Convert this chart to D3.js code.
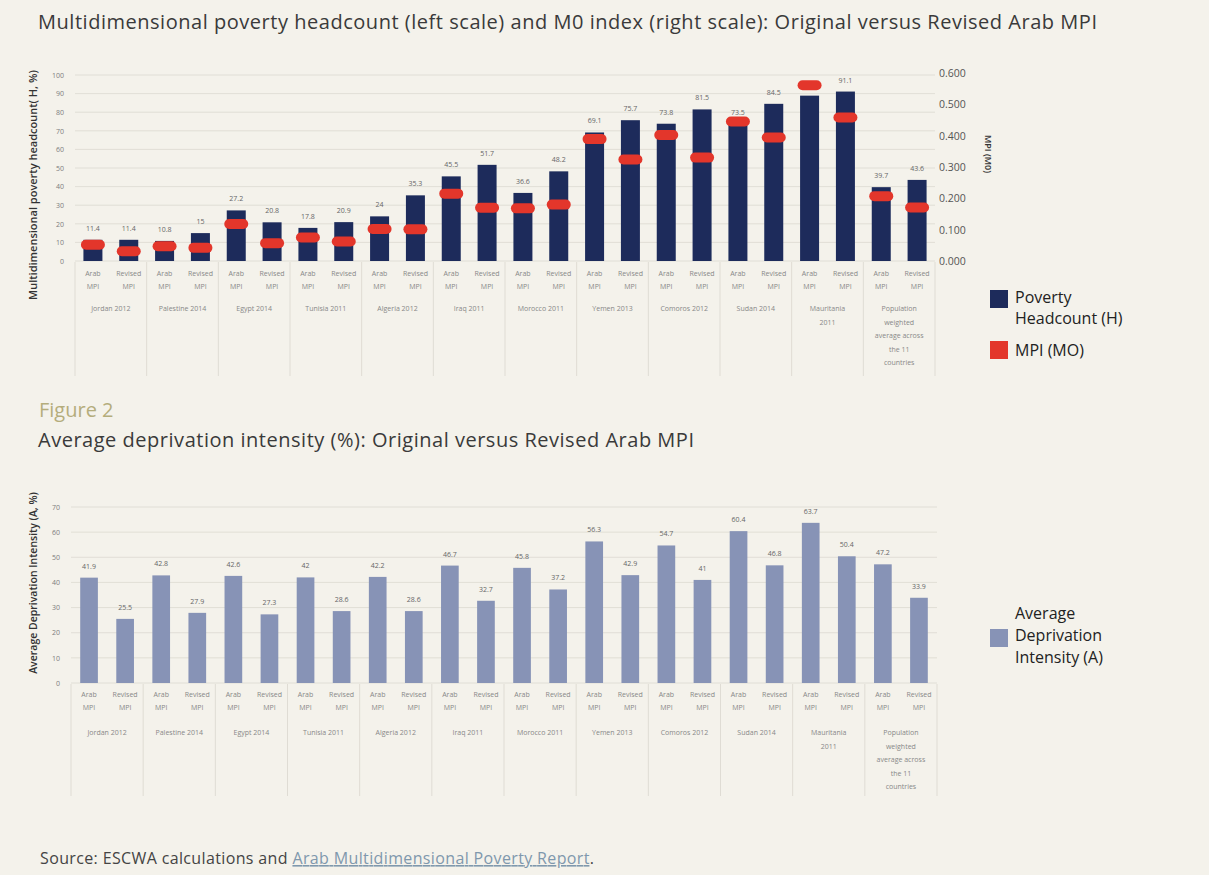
<!DOCTYPE html>
<html>
<head>
<meta charset="utf-8">
<script src="https://cdn.jsdelivr.net/npm/d3@7"></script>
<style>
  html, body { margin: 0; padding: 0; background: #f4f2eb; }
  svg { display: block; }
  text { font-family: "Open Sans", "Noto Sans", sans-serif; }
</style>
</head>
<body>
<svg id="chart" width="1209" height="875"></svg>
<script>
// ---- data ----
const countries = [
  ["Jordan 2012"], ["Palestine 2014"], ["Egypt 2014"], ["Tunisia 2011"],
  ["Algeria 2012"], ["Iraq 2011"], ["Morocco 2011"], ["Yemen 2013"],
  ["Comoros 2012"], ["Sudan 2014"], ["Mauritania", "2011"],
  ["Population", "weighted", "average across", "the 11", "countries"]
];
const versions = [["Arab", "MPI"], ["Revised", "MPI"]];

// headcount H (%) : [Arab MPI, Revised MPI] per country
const headcountArab    = [11.4, 10.8, 27.2, 17.8, 24.0, 45.5, 36.6, 69.1, 73.8, 73.5, 88.9, 39.7];
const headcountRevised = [11.4, 15.0, 20.8, 20.9, 35.3, 51.7, 48.2, 75.7, 81.5, 84.5, 91.1, 43.6];

// MPI (M0)
const mpiArab    = [0.052, 0.047, 0.118, 0.075, 0.102, 0.215, 0.168, 0.389, 0.402, 0.445, 0.561, 0.207];
const mpiRevised = [0.031, 0.042, 0.057, 0.062, 0.101, 0.170, 0.180, 0.324, 0.330, 0.394, 0.458, 0.171];

// average deprivation intensity A (%)
const intensityArab    = [41.9, 42.8, 42.6, 42.0, 42.2, 46.7, 45.8, 56.3, 54.7, 60.4, 63.7, 47.2];
const intensityRevised = [25.5, 27.9, 27.3, 28.6, 28.6, 32.7, 37.2, 42.9, 41.0, 46.8, 50.4, 33.9];

const headcountTicks = [0, 10, 20, 30, 40, 50, 60, 70, 80, 90, 100];
const mpiTicks = [0, 0.1, 0.2, 0.3, 0.4, 0.5, 0.6];
const intensityTicks = [0, 10, 20, 30, 40, 50, 60, 70];

// ---- build rows ----
function rows(a, b) {
  const out = [];
  countries.forEach((c, i) => {
    out.push({ key: i + "-0", group: i, ver: 0, value: a[i] });
    out.push({ key: i + "-1", group: i, ver: 1, value: b[i] });
  });
  return out;
}
const hRows = rows(headcountArab, headcountRevised);
const mRows = rows(mpiArab, mpiRevised);
const aRows = rows(intensityArab, intensityRevised);

const svg = d3.select("#chart");
const C = {
  bg: "#f4f2eb", grid: "#dcd9d0", sep: "#dfdcd4", tick: "#7d7d7d",
  label: "#666", title: "#3a3a3a", navy: "#1d2b5b", red: "#e3362b",
  slate: "#8793b6", figure: "#b4ad7c", link: "#7f98ad"
};

svg.append("rect").attr("width", 1209).attr("height", 875).attr("fill", C.bg);

// ---- titles ----
svg.append("text").attr("x", 38).attr("y", 29)
  .attr("font-size", 20).attr("fill", C.title)
  .attr("textLength", 1059).attr("lengthAdjust", "spacing")
  .text("Multidimensional poverty headcount (left scale) and M0 index (right scale): Original versus Revised Arab MPI");
svg.append("text").attr("x", 39).attr("y", 417)
  .attr("font-size", 20).attr("fill", C.figure)
  .text("Figure 2");
svg.append("text").attr("x", 38).attr("y", 447)
  .attr("font-size", 20).attr("fill", C.title)
  .attr("textLength", 656).attr("lengthAdjust", "spacing")
  .text("Average deprivation intensity (%): Original versus Revised Arab MPI");

// ---- shared helpers ----
function categoryAxis(g, x, y0, subY, grpY, sepBottom) {
  const gap = (x.step() - x.bandwidth()) / 2;
  const groupEdges = countries.map((c, i) => x(i + "-0") - gap);
  groupEdges.push(x((countries.length - 1) + "-1") + x.bandwidth() + gap);
  g.selectAll(".sep").data(groupEdges).join("line")
    .attr("class", "sep")
    .attr("x1", d => d).attr("x2", d => d)
    .attr("y1", y0).attr("y2", sepBottom)
    .attr("stroke", C.sep).attr("stroke-width", 1);

  // version labels under each bar
  const sub = g.selectAll(".sub").data(hRows).join("text")
    .attr("class", "sub")
    .attr("text-anchor", "middle")
    .attr("font-size", 7).attr("fill", "#888")
    .attr("x", d => x(d.key) + x.bandwidth() / 2)
    .attr("y", subY);
  sub.selectAll("tspan").data(d => versions[d.ver]).join("tspan")
    .attr("x", function () { return d3.select(this.parentNode).attr("x"); })
    .attr("dy", (d, i) => i === 0 ? 0 : 13)
    .text(d => d);

  // country labels
  const grp = g.selectAll(".grp").data(countries).join("text")
    .attr("class", "grp")
    .attr("text-anchor", "middle")
    .attr("font-size", 7).attr("fill", "#888")
    .attr("x", (d, i) => (x(i + "-0") + x(i + "-1") + x.bandwidth()) / 2)
    .attr("y", grpY);
  grp.selectAll("tspan").data(d => d).join("tspan")
    .attr("x", function () { return d3.select(this.parentNode).attr("x"); })
    .attr("dy", (d, i) => i === 0 ? 0 : 13.5)
    .text(d => d);
}

function grid(g, y, ticks, xa, xb) {
  g.selectAll(".grid").data(ticks).join("line")
    .attr("class", "grid")
    .attr("x1", xa).attr("x2", xb)
    .attr("y1", d => y(d)).attr("y2", d => y(d))
    .attr("stroke", C.grid).attr("stroke-width", 0.8);
}

// ---- chart 1: headcount + MPI ----
const topG = svg.append("g");
const x1 = d3.scaleBand().domain(hRows.map(d => d.key)).range([75, 935]).paddingInner(0.47).paddingOuter(0.235);
const yH = d3.scaleLinear().domain([0, 100]).range([261, 75]);
const yM = d3.scaleLinear().domain([0, 0.6]).range([261, 73]);

grid(topG, yH, headcountTicks, 75, 935);

const axL1 = topG.append("g").attr("transform", "translate(66,0)")
  .call(d3.axisLeft(yH).tickValues(headcountTicks).tickSize(0).tickPadding(2).tickFormat(d3.format("d")));
axL1.select(".domain").remove();
axL1.selectAll("text").attr("font-size", 7).attr("fill", C.tick).attr("font-family", "Open Sans, sans-serif");

const axR1 = topG.append("g").attr("transform", "translate(936,0)")
  .call(d3.axisRight(yM).tickValues(mpiTicks).tickSize(0).tickPadding(3).tickFormat(d3.format(".3f")));
axR1.select(".domain").remove();
axR1.selectAll("text").attr("font-size", 10.5).attr("fill", "#555").attr("font-family", "Open Sans, sans-serif");

topG.append("text").attr("transform", "translate(37,185) rotate(-90)")
  .attr("text-anchor", "middle").attr("font-size", 11).attr("font-weight", 600).attr("fill", "#333")
  .text("Multidimensional poverty headcount( H, %)");
topG.append("text").attr("transform", "translate(985,154) rotate(90)")
  .attr("text-anchor", "middle").attr("font-size", 9).attr("font-weight", 600).attr("fill", "#333")
  .text("MPI (M0)");

topG.selectAll(".bar").data(hRows).join("rect")
  .attr("class", "bar")
  .attr("x", d => x1(d.key)).attr("width", x1.bandwidth())
  .attr("y", d => yH(d.value)).attr("height", d => yH(0) - yH(d.value))
  .attr("fill", C.navy);

topG.selectAll(".val").data(hRows).join("text")
  .attr("class", "val")
  .attr("text-anchor", "middle").attr("font-size", 7).attr("fill", C.label)
  .attr("x", d => x1(d.key) + x1.bandwidth() / 2)
  .attr("y", d => yH(d.value) - 9)
  .text(d => d.value);

const mw = 24, mh = 10;
topG.selectAll(".mpi").data(mRows).join("rect")
  .attr("class", "mpi")
  .attr("x", d => x1(d.key) + x1.bandwidth() / 2 - mw / 2).attr("width", mw)
  .attr("y", d => yM(d.value) - mh / 2).attr("height", mh)
  .attr("rx", 5).attr("ry", 5)
  .attr("fill", C.red);

categoryAxis(topG, x1, 262, 276, 311, 376);

// legend 1
const lg1 = svg.append("g").attr("font-size", 16).attr("fill", "#222");
lg1.append("rect").attr("x", 990).attr("y", 290).attr("width", 18).attr("height", 18).attr("fill", C.navy);
lg1.append("text").attr("x", 1015).attr("y", 303).text("Poverty");
lg1.append("text").attr("x", 1015).attr("y", 324).text("Headcount (H)");
lg1.append("rect").attr("x", 990).attr("y", 341).attr("width", 18).attr("height", 18).attr("fill", C.red);
lg1.append("text").attr("x", 1015).attr("y", 356).text("MPI (MO)");

// ---- chart 2: intensity ----
const botG = svg.append("g");
const x2 = d3.scaleBand().domain(aRows.map(d => d.key)).range([71, 937]).paddingInner(0.51).paddingOuter(0.255);
const yA = d3.scaleLinear().domain([0, 70]).range([683, 507]);

grid(botG, yA, intensityTicks, 71, 937);

const axL2 = botG.append("g").attr("transform", "translate(62,0)")
  .call(d3.axisLeft(yA).tickValues(intensityTicks).tickSize(0).tickPadding(2).tickFormat(d3.format("d")));
axL2.select(".domain").remove();
axL2.selectAll("text").attr("font-size", 7).attr("fill", C.tick).attr("font-family", "Open Sans, sans-serif");

botG.append("text").attr("transform", "translate(37,583) rotate(-90)")
  .attr("text-anchor", "middle").attr("font-size", 10.5).attr("font-weight", 600).attr("fill", "#333")
  .text("Average Deprivation Intensity (A, %)");

botG.selectAll(".bar").data(aRows).join("rect")
  .attr("class", "bar")
  .attr("x", d => x2(d.key)).attr("width", x2.bandwidth())
  .attr("y", d => yA(d.value)).attr("height", d => yA(0) - yA(d.value))
  .attr("fill", C.slate);

botG.selectAll(".val").data(aRows).join("text")
  .attr("class", "val")
  .attr("text-anchor", "middle").attr("font-size", 7).attr("fill", C.label)
  .attr("x", d => x2(d.key) + x2.bandwidth() / 2)
  .attr("y", d => yA(d.value) - 9)
  .text(d => d.value);

categoryAxis(botG, x2, 684, 697, 735, 796);

// legend 2
const lg2 = svg.append("g").attr("font-size", 16).attr("fill", "#222");
lg2.append("rect").attr("x", 990).attr("y", 629).attr("width", 18).attr("height", 18).attr("fill", C.slate);
lg2.append("text").attr("x", 1015).attr("y", 619).text("Average");
lg2.append("text").attr("x", 1015).attr("y", 641).text("Deprivation");
lg2.append("text").attr("x", 1015).attr("y", 663).text("Intensity (A)");

// ---- source ----
const src = svg.append("text").attr("x", 40).attr("y", 864).attr("font-size", 16).attr("fill", "#444")
  .attr("textLength", 554).attr("lengthAdjust", "spacing");
src.append("tspan").text("Source: ESCWA calculations and ");
src.append("tspan").attr("fill", C.link).attr("text-decoration", "underline").text("Arab Multidimensional Poverty Report");
src.append("tspan").text(".");
</script>
</body>
</html>
